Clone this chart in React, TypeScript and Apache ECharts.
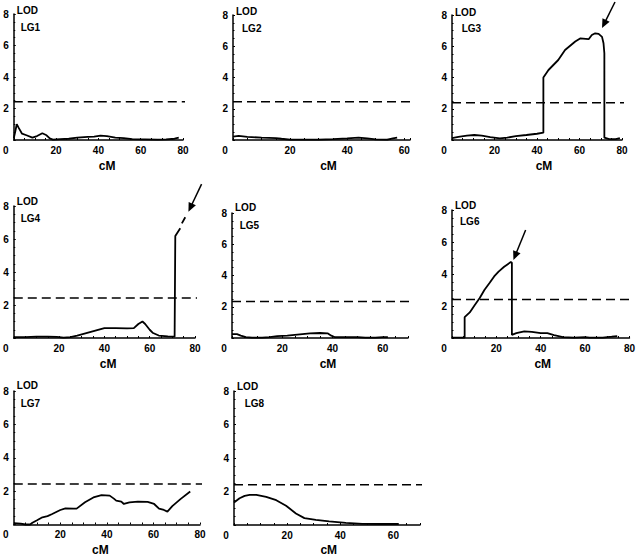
import React, { useEffect, useRef } from 'react';
import * as echarts from 'echarts';

// ---- data (cM, LOD) ----
const lg1: (number | null)[][] = [[0,0.1],[0.8,0.6],[1.4,1.0],[2.2,0.8],[3.9,0.4],[6,0.3],[8.8,0.15],[11,0.25],[13.5,0.43],[15.5,0.3],[17,0.1],[18.5,0.02],[22,0.05],[26,0.08],[30,0.15],[35,0.2],[38,0.22],[41,0.28],[44,0.25],[48,0.15],[52,0.12],[56,0.05],[62,0.04],[68,0.02],[72,0.04],[76,0.08],[78,0.15]];
const lg2: (number | null)[][] = [[0,0.22],[2,0.27],[5,0.2],[10,0.15],[15,0.12],[17,0.08],[20,0.03],[25,0.02],[30,0.02],[35,0.05],[40,0.1],[44,0.15],[47,0.1],[50,0.04],[54,0.03],[56,0.1],[57.5,0.15]];
const lg3: (number | null)[][] = [[0,0.12],[3,0.2],[7,0.28],[10.5,0.32],[14,0.28],[18,0.18],[22.5,0.1],[26,0.15],[30,0.25],[35,0.32],[40,0.4],[43,0.47],[43,4.0],[45.4,4.48],[50,5.12],[53.2,5.76],[58,6.3],[60.3,6.5],[64.3,6.45],[65.8,6.72],[67.4,6.83],[69,6.79],[70.6,6.6],[71.3,6.19],[71.7,5.55],[71.7,0.15],[74,0.05],[77,0.05],[79,0.12]];
const lg4: (number | null)[][] = [[0,0.05],[5,0.05],[10,0.08],[15,0.08],[19,0.07],[22,0.02],[25,0.05],[28,0.15],[32,0.3],[36,0.45],[40,0.6],[45,0.6],[50,0.58],[53,0.6],[55,0.85],[56.8,1.0],[58,0.85],[60,0.5],[61.5,0.3],[64,0.15],[68,0.1],[71,0.08],[71.3,6.18],[73.5,6.65],[73.8,null],[74.2,6.95],[75.7,7.32]];
const lg5: (number | null)[][] = [[0,0.25],[2,0.25],[3.5,0.15],[5.5,0.05],[8,0.02],[12,0.02],[15,0.05],[18,0.12],[22,0.15],[25,0.2],[28,0.25],[31,0.3],[35,0.32],[38,0.3],[39.5,0.15],[41,0.05],[45,0.05],[50,0.06],[53,0.03],[57,0.02],[60,0.05],[62,0.05]];
const lg6: (number | null)[][] = [[0,0.02],[5.7,0.02],[5.7,1.3],[8,1.6],[10.2,2.05],[12.5,2.5],[14.6,3.0],[17,3.45],[19,3.85],[21,4.15],[23.5,4.45],[25,4.6],[26.5,4.75],[27,4.7],[27,0.2],[29,0.3],[32.6,0.42],[36,0.38],[40,0.3],[43,0.3],[46,0.18],[50,0.05],[55,0.02],[60,0.05],[62,0.02],[68,0.02],[72,0.08],[74.5,0.12]];
const lg7: (number | null)[][] = [[0,0.08],[3,0.05],[5,0],[7,0],[8,0.1],[10,0.25],[12.3,0.43],[14.5,0.5],[16.5,0.63],[20,0.87],[22.2,0.97],[25.7,0.95],[27,0.95],[30.6,1.33],[34.2,1.62],[37.7,1.76],[41.2,1.73],[43,1.55],[44,1.43],[46.2,1.37],[47.3,1.23],[49.7,1.33],[53.3,1.37],[57.5,1.35],[60.3,1.23],[62.4,0.95],[64.5,0.87],[66,0.77],[68.1,1.1],[71.6,1.52],[75.8,1.98]];
const lg8: (number | null)[][] = [[0,1.34],[2.1,1.6],[4,1.74],[5.9,1.8],[8.4,1.8],[12.1,1.68],[15.9,1.48],[19.6,1.15],[23.3,0.69],[26.5,0.41],[30.8,0.3],[35.8,0.22],[42.1,0.13],[48.3,0.07],[55,0.06],[62,0.06]];

const curves = [lg1, lg2, lg3, lg4, lg5, lg6, lg7, lg8];
const panelNames = ['LG1', 'LG2', 'LG3', 'LG4', 'LG5', 'LG6', 'LG7', 'LG8'];
const xMaxes = [80, 62, 80, 80, 70, 80, 80, 70];
const thresholds = [2.43, 2.45, 2.39, 2.42, 2.34, 2.4, 2.42, 2.4];
const thresholdEnds = [82.8, 62.3, 83.3, 82.2, 71.6, 81.3, 81.3, 71.9];
const yTicks = [0, 2, 4, 6, 8];
const xTickStep = 20;
// arrows: panel index, tail (cM, LOD), head (cM, LOD)
const arrows = [
  { panel: 2, from: [76.7, 8.83], to: [70.6, 7.17] },
  { panel: 3, from: [82.9, 9.33], to: [77.1, 7.65] },
  { panel: 5, from: [33.2, 6.75], to: [27.7, 4.875] },
];

// ---- layout ----
const layout = [
  { left: 11, top: 14, width: 172, height: 126, lodGap: 3.3, lgX: 20.7, lgY: 27.7, cmDx: 8.7, nameGap: 20 },
  { left: 233, top: 15, width: 177, height: 125, lodGap: 3.3, lgX: 242, lgY: 28.3, cmDx: 7, nameGap: 20 },
  { left: 452, top: 15, width: 170, height: 125, lodGap: 2.3, lgX: 461.7, lgY: 28.3, cmDx: 7, nameGap: 20 },
  { left: 11, top: 206, width: 184, height: 132, lodGap: 4.3, lgX: 20.7, lgY: 218.3, cmDx: 3.7, nameGap: 19.5 },
  { left: 232, top: 213, width: 176, height: 125, lodGap: 5.3, lgX: 239.7, lgY: 225, cmDx: 8, nameGap: 19.5 },
  { left: 452, top: 210, width: 180, height: 128, lodGap: 5, lgX: 460, lgY: 221.7, cmDx: 2, nameGap: 19.5 },
  { left: 11, top: 391, width: 189, height: 136, lodGap: 6, lgX: 20.7, lgY: 403.3, cmDx: -6.5, nameGap: 19.5 },
  { left: 234, top: 391, width: 186, height: 137, lodGap: 5, lgX: 244.7, lgY: 403.3, cmDx: 1.7, nameGap: 19 },
];

const FONT = "'Liberation Sans', Arial, sans-serif";

export default function App() {
  const ref = useRef<HTMLDivElement>(null);
  useEffect(() => {
    if (!ref.current) return;
    const chart = echarts.init(ref.current, undefined, { renderer: 'svg' });
    const grid = layout.map((l) => ({ left: l.left, top: l.top, width: l.width, height: l.height, containLabel: false }));
    const xAxis = layout.map((l, i) => ({
      type: 'value',
      gridIndex: i,
      min: 0,
      max: xMaxes[i],
      interval: xTickStep,
      name: 'cM',
      nameLocation: 'middle',
      nameGap: l.nameGap,
      nameTextStyle: {
        fontFamily: FONT, fontWeight: 'bold', fontSize: 12, color: '#000',
        padding: l.cmDx >= 0 ? [0, 0, 0, 2 * l.cmDx] : [0, -2 * l.cmDx, 0, 0],
      },
      splitLine: { show: false },
      axisLine: { show: true, lineStyle: { color: '#000', width: 1.5 } },
      axisTick: { show: true, inside: true, length: 2, lineStyle: { color: '#000' } },
      minorTick: { show: true, splitNumber: 4, length: 2, lineStyle: { color: '#000' } },
      axisLabel: {
        fontFamily: FONT, fontWeight: 'bold', fontSize: 10, color: '#000', margin: 5,
        formatter: (v: number) => (v === 0 ? '{z|0}' : v % xTickStep === 0 ? String(v) : ''),
        rich: { z: { fontFamily: FONT, fontWeight: 'bold', fontSize: 10, color: '#000', padding: [0, 16, 0, 0] } },
      },
    }));
    const yAxis = layout.map((l, i) => ({
      type: 'value',
      gridIndex: i,
      min: yTicks[0],
      max: yTicks[yTicks.length - 1],
      interval: yTicks[1] - yTicks[0],
      name: 'LOD',
      nameLocation: 'end',
      nameGap: l.lodGap,
      nameTextStyle: {
        fontFamily: FONT, fontWeight: 'bold', fontSize: 10, color: '#000',
        align: 'left', verticalAlign: 'middle', padding: [0, 0, 0, 3],
      },
      splitLine: { show: false },
      axisLine: { show: true, lineStyle: { color: '#000', width: 1.5 } },
      axisTick: { show: true, inside: true, length: 2, lineStyle: { color: '#000' } },
      minorTick: { show: true, splitNumber: 4, length: 1.5, lineStyle: { color: '#000' } },
      axisLabel: {
        fontFamily: FONT, fontWeight: 'bold', fontSize: 10, color: '#000', margin: 5,
        formatter: (v: number) => (v === 0 ? '' : String(v)),
      },
    }));
    const series: any[] = [];
    curves.forEach((c, i) => {
      series.push({
        type: 'line',
        xAxisIndex: i,
        yAxisIndex: i,
        data: c.map((p) => [p[0], p[1] === null ? '-' : p[1]]),
        symbol: 'none',
        silent: true,
        clip: false,
        lineStyle: { color: '#000', width: 1.8 },
      });
      series.push({
        type: 'line',
        xAxisIndex: i,
        yAxisIndex: i,
        data: [[0, thresholds[i]], [thresholdEnds[i], thresholds[i]]],
        symbol: 'none',
        silent: true,
        clip: false,
        lineStyle: { color: '#000', width: 1.5, type: [9, 5] },
      });
    });
    const labels = layout.map((l, i) => ({
      type: 'text',
      x: l.lgX,
      y: l.lgY,
      silent: true,
      style: { text: panelNames[i], fontFamily: FONT, fontWeight: 'bold', fontSize: 10, fill: '#000', verticalAlign: 'middle', align: 'left' },
    }));
    chart.setOption({ animation: false, grid, xAxis, yAxis, series, graphic: labels });

    // arrows, placed through the panels' own scales
    const arrowEls: any[] = [];
    arrows.forEach((a) => {
      const p0 = chart.convertToPixel({ gridIndex: a.panel }, a.from) as number[];
      const p1 = chart.convertToPixel({ gridIndex: a.panel }, a.to) as number[];
      const dx = p1[0] - p0[0];
      const dy = p1[1] - p0[1];
      const len = Math.sqrt(dx * dx + dy * dy);
      const ux = dx / len, uy = dy / len;
      const headLen = 9, headW = 4;
      const bx = p1[0] - ux * headLen, by = p1[1] - uy * headLen;
      arrowEls.push({
        type: 'line', silent: true,
        shape: { x1: p0[0], y1: p0[1], x2: bx + ux * 1, y2: by + uy * 1 },
        style: { stroke: '#000', lineWidth: 1.5 },
      });
      arrowEls.push({
        type: 'polygon', silent: true,
        shape: { points: [[p1[0], p1[1]], [bx - uy * headW, by + ux * headW], [bx + uy * headW, by - ux * headW]] },
        style: { fill: '#000' },
      });
    });
    chart.setOption({ graphic: [...labels, ...arrowEls] });
    return () => chart.dispose();
  }, []);
  return <div ref={ref} style={{ position: 'absolute', left: 0, top: 0, width: 638, height: 557, background: '#fff' }} />;
}
